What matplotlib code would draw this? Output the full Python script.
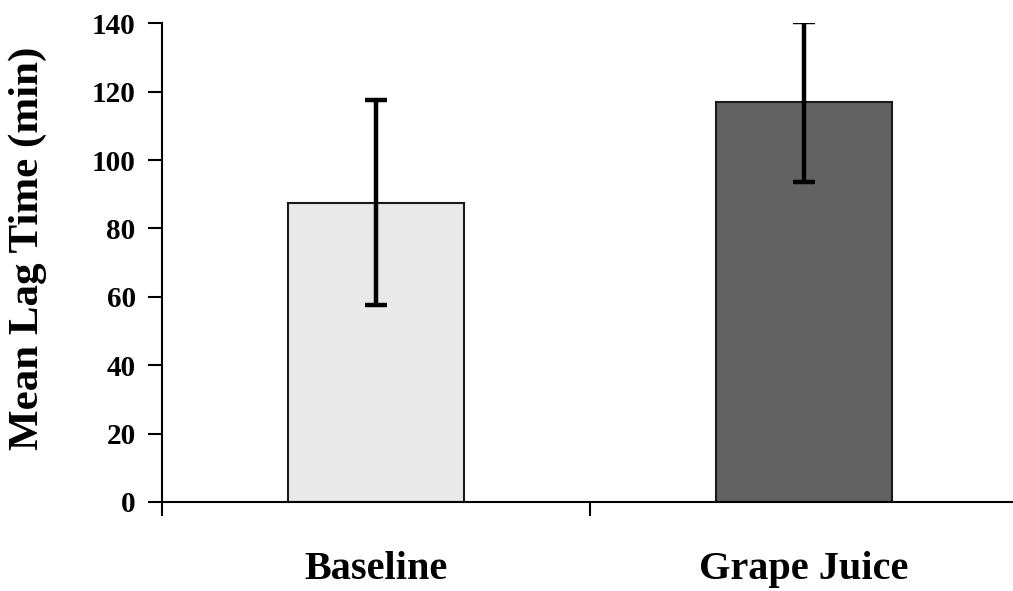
import matplotlib
matplotlib.use("Agg")
import matplotlib.pyplot as plt

categories = ["Baseline", "Grape Juice"]
means = [87.5, 117.0]
errors = [30.0, 23.5]
yticks = [0, 20, 40, 60, 80, 100, 120, 140]

plt.rcParams['font.family'] = ['Liberation Serif', 'DejaVu Serif']
plt.rcParams['font.weight'] = 'bold'

fig = plt.figure(figsize=(10.13, 5.91), dpi=100)
ax = fig.add_axes([0.160, 0.1506, 0.845, 0.810])

x = list(range(len(categories)))
ax.bar(x, means, width=0.41, color=['#e9e9e9', '#626262'],
       edgecolor='#1a1a1a', linewidth=1.5, zorder=2)
ax.errorbar(x, means, yerr=errors, fmt='none', ecolor='black',
            elinewidth=3.2, capsize=8, capthick=3.2, zorder=3)

ax.set_xlim(-0.5, 1.5)
ax.set_ylim(0, 140)
ax.set_yticks(yticks)
ax.set_yticklabels([str(v) for v in yticks], fontsize=21, fontweight='bold')
ax.set_xticks([-0.5, 0.5, 1.5])
ax.set_xticklabels([])
ax.set_xticks(x, minor=True)
ax.set_xticklabels(categories, minor=True, fontsize=29, fontweight='bold')
ax.tick_params(axis='x', which='minor', length=0, pad=35)
ax.tick_params(axis='x', which='major', direction='out', length=10, width=1.5)
ax.tick_params(axis='y', direction='out', length=10, width=1.5, pad=9)

ax.set_ylabel("Mean Lag Time (min)", fontsize=31, fontweight='bold')
ax.yaxis.set_label_coords(-0.134, 0.53)

for s in ['top', 'right']:
    ax.spines[s].set_visible(False)
for s in ['left', 'bottom']:
    ax.spines[s].set_linewidth(1.5)

fig.savefig("out.png", dpi=100)
